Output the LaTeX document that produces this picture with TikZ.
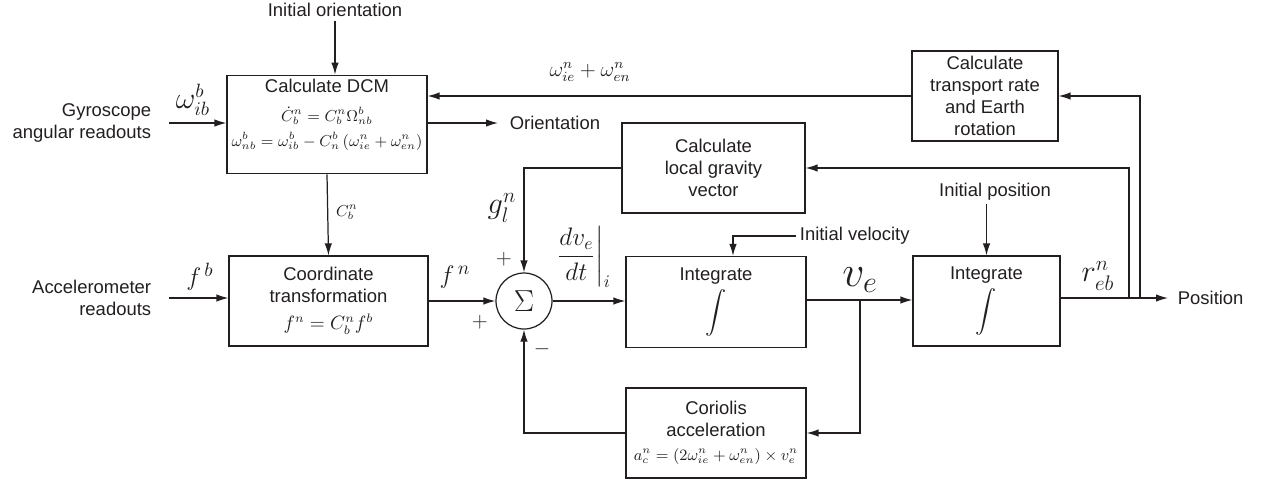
\documentclass[tikz,border=0pt]{standalone}
\usepackage{fontspec}
\setmainfont{Liberation Sans}
\usepackage{amsmath}
\usetikzlibrary{arrows.meta,positioning,calc}
\definecolor{ink}{RGB}{35,31,32}

\begin{document}
\begin{tikzpicture}[
  x=0.02cm, y=-0.02cm,
  arr/.style={draw=ink, line width=0.7pt, -{Latex[length=2.4mm,width=1.5mm]}},
  blk/.style={
    rectangle, draw=ink, line width=0.7pt, align=center, inner sep=2pt,
    font=\fontsize{10.5}{12.5}\selectfont, text=ink,
  },
  txt/.style={align=center, inner sep=2pt,
              font=\fontsize{10.5}{12.5}\selectfont, text=ink},
  sym/.style={inner sep=0pt, text=ink},
]
  \useasboundingbox (0,0) rectangle (1267,481);
  % blocks
  \node[blk, minimum width=4cm, minimum height=1.82cm] (dcm) at (327,124.5)
    {Calculate DCM\\[4pt]
     \small$\dot{C}_b^n = C_b^n\Omega_{nb}^b$\\[2pt]
     \small$\omega_{nb}^b = \omega_{ib}^b - C_n^b\left(\omega_{ie}^n+\omega_{en}^n\right)$\\[1pt]};
  \node[blk, minimum width=3.98cm, minimum height=1.8cm] (coord) at (328.5,301)
    {Coordinate\\transformation\\[3pt] $f^n = C_b^n f^b$};
  \node[blk, minimum width=3.66cm, minimum height=1.8cm] (grav) at (713.5,168)
    {Calculate\\local gravity\\vector};
  \node[blk, minimum width=2.92cm, minimum height=1.8cm] (trans) at (985,96)
    {Calculate\\transport rate\\and Earth\\rotation};
  \node[blk, minimum width=3.6cm, minimum height=1.82cm] (int1) at (716,302)
    {Integrate\\[2pt] {\fontsize{13}{15}\selectfont$\displaystyle\int$}};
  \node[blk, minimum width=2.94cm, minimum height=1.8cm] (int2) at (986.5,301)
    {Integrate\\[2pt] {\fontsize{13}{15}\selectfont$\displaystyle\int$}};
  \node[blk, minimum width=3.6cm, minimum height=1.8cm] (cor) at (716,433)
    {Coriolis\\acceleration\\[1pt] \small$a_c^n = \left(2\omega_{ie}^n+\omega_{en}^n\right)\times v_e^n$};
  \node[circle, draw=ink, line width=0.7pt, minimum size=1.12cm, inner sep=0pt,
        text=ink, font=\fontsize{17}{17}\selectfont] (sum) at (524,301) {$\Sigma$};

  % plain texts
  \node[txt] (initori) at (335,10) {Initial orientation};
  \node[txt, align=right, anchor=east] (gyro) at (155,123) {Gyroscope\\angular readouts};
  \node[txt, align=right, anchor=east] (accel) at (155,298) {Accelerometer\\readouts};
  \node[txt, anchor=west] (orient) at (506,123) {Orientation};
  \node[txt, anchor=west] (initvel) at (796,236) {Initial velocity};
  \node[txt] (initpos) at (995,192) {Initial position};
  \node[txt, anchor=west] (pos) at (1174,298) {Position};

  % signal labels
  \node[sym, font=\fontsize{16}{18}\selectfont] (wib) at (193,100) {$\omega_{ib}^b$};
  \node[sym, font=\fontsize{15}{17}\selectfont] (fb) at (200,277) {$f^{\,b}$};
  \node[sym, font=\fontsize{15}{17}\selectfont] (fn) at (455,277) {$f^{\,n}$};
  \node[sym, font=\small] (cbn) at (347,212) {$C_b^n$};
  \node[sym, font=\fontsize{17}{19}\selectfont] (gln) at (502,208) {$g_l^n$};
  \node[sym, font=\fontsize{14}{16}\selectfont] (dvdt) at (583,257)
    {$\left.\dfrac{dv_e}{dt}\right|_i$};
  \node[sym, font=\fontsize{24}{26}\selectfont] (ve) at (860,280) {$v_e$};
  \node[sym, font=\fontsize{18}{20}\selectfont] (reb) at (1098,276) {$r_{eb}^n$};
  \node[sym, font=\fontsize{12}{14}\selectfont] (wsum) at (590,72)
    {$\omega_{ie}^n+\omega_{en}^n$};
  \node[sym, font=\large] (plusa) at (480,322) {$+$};
  \node[sym, font=\large] (plusb) at (504,259) {$+$};
  \node[sym, font=\large] (minus) at (542,349) {$-$};

  % junctions
  \coordinate (vjn) at (860,300);
  \coordinate (gjn) at (1129,298);
  \coordinate (tjn) at (1140,298);

  % connectors
  \draw[arr] (initori.south) -- (initori.south |- dcm.north);
  \draw[arr, shorten <=8pt] (gyro.east) -- (gyro.east -| dcm.west);
  \draw[arr] (dcm.east |- orient.west) -- ($(orient.west)+(-8,0)$);
  \draw[arr] (dcm.south) -- (coord.north);
  \draw[arr, shorten <=8pt] (accel.east) -- (accel.east -| coord.west);
  \draw[arr] (coord.east |- sum.west) -- (sum.west);
  \draw[arr] (grav.west) -| (sum.north);
  \draw[arr] (cor.west) -| (sum.south);
  \draw[arr] (sum.east) -- (sum.east -| int1.west);
  \draw[arr] (initvel.west) -| ($(int1.north)+(17,0)$);
  \draw[arr] (int1.east |- vjn) -- (vjn -| int2.west);
  \draw[arr] (vjn) |- (cor.east);
  \draw[arr] (initpos.south -| int2.north) -- (int2.north);
  \draw[arr] (int2.east |- gjn) -- ($(pos.west)+(-6,0)$);
  \draw[arr] (gjn) |- (grav.east);
  \draw[arr] (tjn) |- (trans.east);
  \draw[arr] (trans.west) -- (trans.west -| dcm.east);
\end{tikzpicture}
\end{document}
